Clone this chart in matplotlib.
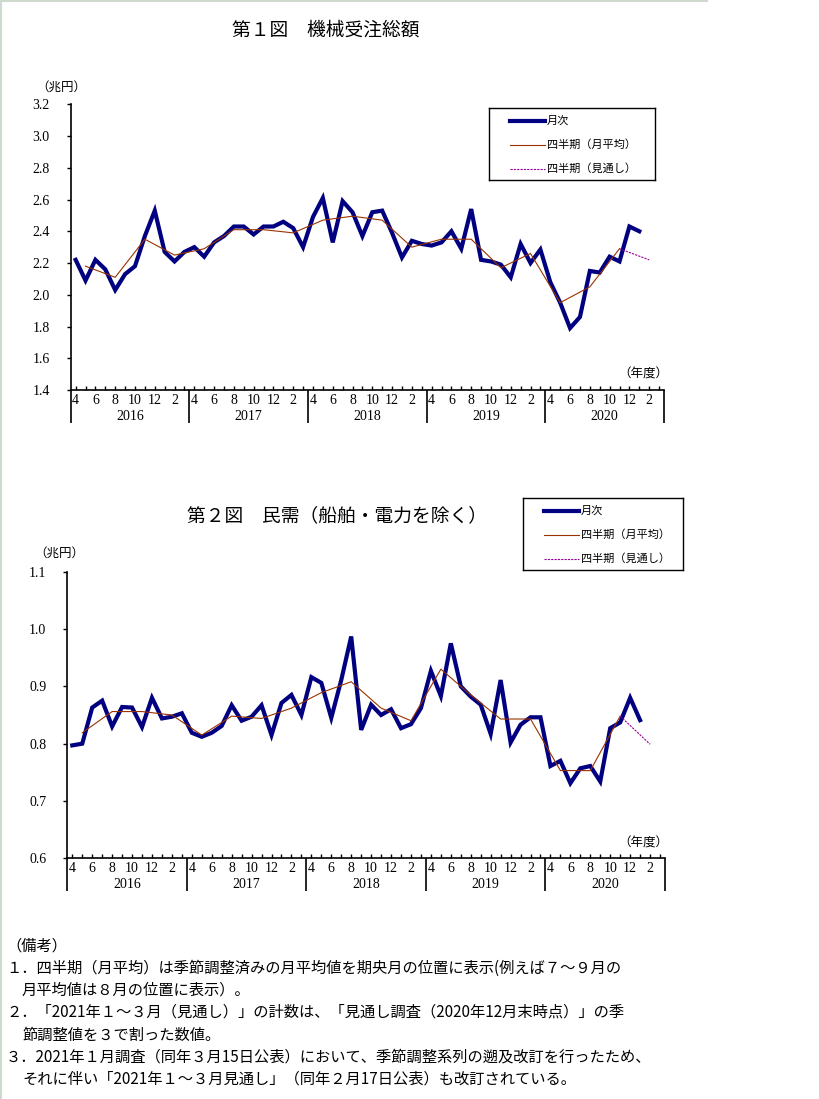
import matplotlib
matplotlib.use("Agg")
import matplotlib.pyplot as plt
from matplotlib.lines import Line2D
import matplotlib.transforms as mtransforms
import numpy as np

plt.rcParams['font.family'] = ['Noto Sans CJK JP', 'DejaVu Sans']

# months from 2016/4 to 2021/3 (fiscal years 2016-2020)
years = ["2016", "2017", "2018", "2019", "2020"]
month_labels = ["4", "", "6", "", "8", "", "10", "", "12", "", "2", ""]

# chart 1: machinery orders total (trillion yen), monthly 2016/4 - 2021/1
total_monthly = [2.22, 2.09, 2.22, 2.16, 2.03, 2.13, 2.18, 2.37, 2.53, 2.27, 2.21, 2.27,
                 2.30, 2.24, 2.33, 2.37, 2.43, 2.43, 2.38, 2.43, 2.43, 2.46, 2.42, 2.30,
                 2.49, 2.61, 2.33, 2.59, 2.52, 2.37, 2.52, 2.53, 2.39, 2.235, 2.34, 2.32,
                 2.31, 2.33, 2.40, 2.29, 2.54, 2.22, 2.21, 2.19, 2.11, 2.32, 2.20, 2.285,
                 2.08, 1.95, 1.79, 1.86, 2.15, 2.14, 2.24, 2.21, 2.43, 2.40]
# quarterly averages at the middle month (May, Aug, Nov, Feb)
total_quarter = [2.18, 2.11, 2.35, 2.25, 2.29, 2.41, 2.41, 2.39, 2.47, 2.495,
                 2.47, 2.30, 2.35, 2.35, 2.17, 2.26, 1.95, 2.05, 2.29]
total_outlook = [2.29, 2.22]

# chart 2: private demand excl. ships and electric power
priv_monthly = [0.797, 0.800, 0.863, 0.875, 0.830, 0.864, 0.863, 0.829, 0.880, 0.844, 0.847, 0.853,
                0.819, 0.812, 0.819, 0.831, 0.867, 0.840, 0.847, 0.867, 0.815, 0.871, 0.885, 0.850,
                0.916, 0.906, 0.845, 0.911, 0.987, 0.824, 0.868, 0.850, 0.860, 0.827, 0.834, 0.862,
                0.927, 0.883, 0.975, 0.900, 0.882, 0.868, 0.817, 0.911, 0.802, 0.833, 0.846, 0.846,
                0.761, 0.770, 0.731, 0.757, 0.761, 0.734, 0.827, 0.837, 0.880, 0.841]
priv_quarter = [0.819, 0.856, 0.856, 0.850, 0.815, 0.848, 0.844, 0.862, 0.889, 0.908,
                0.862, 0.840, 0.930, 0.885, 0.843, 0.843, 0.753, 0.753, 0.848]
priv_outlook = [0.848, 0.799]

NAVY = "#000080"
BROWN = "#993300"
PURPLE = "#990099"
W, H = 819, 1099

fig = plt.figure(figsize=(W / 100, H / 100), dpi=100)


def px_axes(left, top, right, bottom):
    return fig.add_axes([left / W, 1 - bottom / H, (right - left) / W, (bottom - top) / H])


def draw_chart(ax, monthly, quarter, outlook, ylim, yticks):
    xm = np.arange(len(monthly)) + 0.5
    xq = np.arange(len(quarter)) * 3 + 1.5
    xo = np.array([len(quarter) - 1, len(quarter)]) * 3 + 1.5
    ax.plot(xm, monthly, color=NAVY, lw=3.0, solid_joinstyle="miter", zorder=3)
    ax.plot(xq, quarter, color=BROWN, lw=0.8, zorder=4)
    ax.plot(xo, outlook, color=PURPLE, lw=0.8, dashes=(2, 1), zorder=4)

    ax.set_xlim(0, 60)
    ax.set_ylim(*ylim)
    ax.set_yticks(yticks)
    ax.set_yticklabels(["%.1f" % v for v in yticks], family="Liberation Serif", fontsize=10)
    ax.tick_params(axis="y", direction="out", length=3, width=1, pad=12)
    ax.spines["top"].set_visible(False)
    ax.spines["right"].set_visible(False)
    ax.spines["left"].set_linewidth(1.2)
    ax.spines["bottom"].set_linewidth(1.2)

    # year separators hang below the axis, month ticks point inside
    ax.set_xticks(np.arange(0, 61, 12))
    ax.set_xticklabels([])
    ax.set_xticks(np.arange(60) + 0.5, minor=True)
    ax.tick_params(axis="x", which="major", direction="out", length=24, width=1.2)
    ax.tick_params(axis="x", which="minor", direction="in", length=3, width=1)

    trans = mtransforms.blended_transform_factory(ax.transData, ax.transAxes)
    offs = mtransforms.ScaledTranslation(0, -10 / 100, fig.dpi_scale_trans)
    offy = mtransforms.ScaledTranslation(0, -26 / 100, fig.dpi_scale_trans)
    for y in range(len(years)):
        for m, lab in enumerate(month_labels):
            if lab:
                ax.text(y * 12 + m + 0.5, 0, lab, transform=trans + offs, ha="center", va="center",
                        family="Liberation Serif", fontsize=10)
        ax.text(y * 12 + 6, 0, years[y], transform=trans + offy, ha="center", va="center",
                family="Liberation Serif", fontsize=10)


def draw_legend(left, top, right, bottom):
    lg = px_axes(left, top, right, bottom)
    lg.set_xlim(left, right)
    lg.set_ylim(bottom, top)
    lg.set_xticks([])
    lg.set_yticks([])
    for s in lg.spines.values():
        s.set_linewidth(1.0)
    x0, x1 = left + 21, left + 56
    rows = [(NAVY, 3.0, None, "月次"), (BROWN, 0.8, None, "四半期（月平均）"),
            (PURPLE, 0.8, (2, 1), "四半期（見通し）")]
    for i, (c, lw, d, lab) in enumerate(rows):
        y = top + 12.5 + i * 24
        ln = Line2D([x0, x1], [y, y], color=c, lw=lw)
        if d:
            ln.set_dashes(d)
        lg.add_line(ln)
        lg.text(x1 + 2, y, lab, va="center", ha="left", fontsize=8)


ax1 = px_axes(70.7, 104.3, 664, 390)
draw_chart(ax1, total_monthly, total_quarter, total_outlook, (1.4, 3.2), np.arange(1.4, 3.21, 0.2))
draw_legend(489, 108, 655, 180)
fig.text(326 / W, 1 - 30 / H, "第１図　機械受注総額", ha="center", va="center", fontsize=13.5)
fig.text(61 / W, 1 - 87 / H, "（兆円）", ha="center", va="center", fontsize=9)
fig.text(643 / W, 1 - 374 / H, "（年度）", ha="center", va="center", fontsize=9)

ax2 = px_axes(67.3, 571.7, 665, 858.3)
draw_chart(ax2, priv_monthly, priv_quarter, priv_outlook, (0.6, 1.1), np.arange(0.6, 1.11, 0.1))
draw_legend(523, 498, 683, 570)
fig.text(337 / W, 1 - 516 / H, "第２図　民需（船舶・電力を除く）", ha="center", va="center", fontsize=13.5)
fig.text(59 / W, 1 - 553 / H, "（兆円）", ha="center", va="center", fontsize=9)
fig.text(643 / W, 1 - 843 / H, "（年度）", ha="center", va="center", fontsize=9)

notes = [
    (6, "（備考）"),
    (6, "１．四半期（月平均）は季節調整済みの月平均値を期央月の位置に表示(例えば７～９月の"),
    (22, "月平均値は８月の位置に表示）。"),
    (6, "２．「2021年１～３月（見通し）」の計数は、「見通し調査（2020年12月末時点）」の季"),
    (22, "節調整値を３で割った数値。"),
    (6, "３．2021年１月調査（同年３月15日公表）において、季節調整系列の遡及改訂を行ったため、"),
    (22, "それに伴い「2021年１～３月見通し」（同年２月17日公表）も改訂されている。"),
]
note_y = [946, 968, 990, 1012, 1035, 1057, 1079]
for (x, t), y in zip(notes, note_y):
    fig.text(x / W, 1 - y / H, t, ha="left", va="center", fontsize=11)

# light frame on the left and top edges
fig.add_artist(Line2D([1 / W, 1 / W], [0, 1], color="#cfdacf", lw=1.5))
fig.add_artist(Line2D([0, 707 / W], [1 - 1 / H, 1 - 1 / H], color="#cfdacf", lw=1.5))

fig.savefig("out.png", dpi=100)
